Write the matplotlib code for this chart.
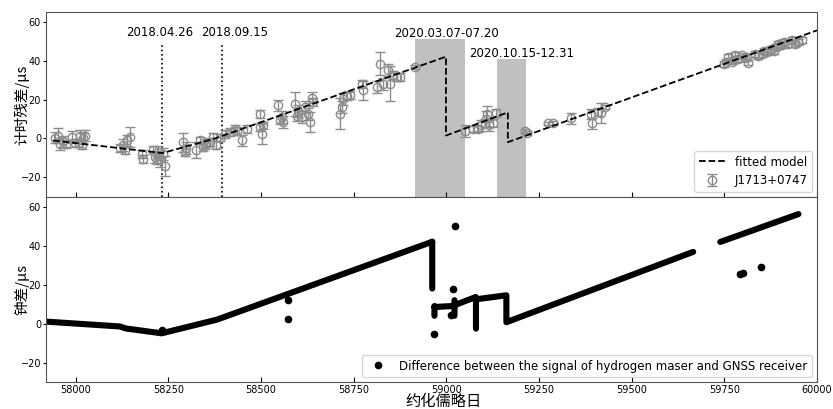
import numpy as np
import matplotlib.pyplot as plt

plt.rcParams['font.family'] = ['DejaVu Sans', 'Noto Sans CJK SC']
cjk = ['Noto Sans CJK SC', 'DejaVu Sans']

# J1713+0747 timing residuals (MJD, us, error us)
psr_mjd = [57943, 57953, 57958, 57965, 57975, 57989, 57998, 58008, 58012, 58016, 58020, 58026,
           58120, 58128, 58133, 58138, 58147,
           58178, 58183, 58210, 58214, 58219, 58223, 58228, 58236, 58241,
           58290, 58295, 58298,
           58326, 58335, 58344, 58349, 58353, 58362, 58371, 58380, 58389, 58403, 58416, 58430, 58434,
           58448, 58461, 58497, 58497, 58502, 58506,
           58547, 58551, 58556, 58560, 58592, 58596, 58600, 58610, 58619, 58628, 58632, 58637, 58641,
           58713, 58718, 58722, 58731, 58740,
           58772, 58776, 58812, 58821, 58830, 58844, 58848, 58857, 58866, 58875, 58916,
           59050, 59072, 59085, 59094, 59103, 59108, 59111, 59116, 59125, 59133,
           59212, 59218, 59275, 59287, 59336, 59391, 59393, 59410, 59418, 59428,
           59748, 59755, 59761, 59770, 59775, 59780, 59788, 59797, 59805, 59810, 59815, 59833,
           59840, 59851, 59858, 59865, 59875, 59883, 59890, 59896, 59905, 59910, 59923, 59932,
           59941, 59950, 59959]
psr_res = [0.5, 1.5, -2.7, -1.5, -3.0, 0.7, -2.5, -2.5, 1.5, -3.5, 0.0, 1.5,
           -5.0, -3.5, -6.0, -1.0, 0.7,
           -8.0, -10.5, -6.0, -9.5, -11.0, -7.0, -10.5, -8.0, -14.0,
           -2.0, -7.0, -5.0,
           -6.0, -1.0, -4.5, -3.5, -2.5, -1.8, 0.7, -3.5, 0.5, 2.4, 3.3, 5.0, 4.0,
           -1.0, 5.0, 5.8, 12.7, 2.4, 6.7,
           17.0, 9.3, 11.0, 8.4, 17.8, 11.8, 14.0, 11.0, 16.0, 12.7, 8.4, 21.0, 18.7,
           12.7, 16.0, 20.4, 22.0, 22.5,
           28.0, 24.7, 26.4, 38.4, 28.0, 35.0, 28.0, 32.4, 31.5, 31.5, 36.5,
           4.0, 5.0, 5.0, 6.7, 7.8, 10.0, 12.8, 6.7, 8.0, 13.0,
           4.0, 3.0, 7.7, 8.0, 10.3, 12.5, 7.7, 13.4, 13.0, 16.0,
           38.4, 39.5, 41.8, 39.5, 40.5, 42.7, 41.0, 42.6, 41.5, 42.0, 39.0, 43.5,
           42.5, 43.5, 45.0, 44.4, 46.0, 45.0, 47.0, 48.7, 48.0, 49.5, 48.7, 50.6,
           48.7, 49.6, 50.4]
psr_err = [3, 4, 3, 3, 2, 3, 2, 2, 3, 2, 3, 3,
           2, 3, 2, 3, 5,
           2, 2, 2, 3, 2, 3, 4, 3, 5,
           5, 2, 3,
           4, 2, 2, 2, 2, 2, 2, 2, 2, 2, 2, 2, 2,
           3, 2, 2, 2, 5, 2,
           3, 2, 3, 3, 6, 3, 3, 3, 3, 3, 5, 3, 2,
           8, 3, 3, 2, 2,
           2, 5, 3, 6, 3, 3, 9, 2, 2, 2, 1,
           3, 1.5, 1.5, 3, 2, 4, 4, 3, 2, 2,
           1, 1, 1, 1, 3, 2.5, 3, 2, 5, 1,
           1.5, 1.5, 1.5, 1.5, 1.5, 1.5, 1.5, 1.5, 1.5, 1.5, 1.5, 1.5,
           1.5, 1.5, 1.5, 1.5, 1.5, 1.5, 1.5, 1.5, 1.5, 1.5, 1.5, 1.5,
           1.5, 1.5, 1.5]

# fitted timing model (piecewise)
fit_mjd = [57939, 58234, 58376, 58999, 58999, 59166, 59166, 60000]
fit_val = [-1.0, -7.5, 0.0, 42.0, 1.5, 13.4, -1.9, 55.5]

# marked dates
event_mjd = [58234, 58396]
event_labels = ['2018.04.26', '2018.09.15']
event_label_x = [58228, 58428]
gap_start = [58915, 59137]
gap_end = [59050, 59214]
gap_top = [51.3, 41.0]
gap_labels = ['2020.03.07-07.20', '2020.10.15-12.31']
gap_label_x = [59001, 59203]

# hydrogen maser - GNSS receiver clock difference (NaN separates pieces)
clk_mjd = [57920, 58120, 58135, 58232, 58381, 58962, np.nan,
           58962, 58962, np.nan,
           58968, 58968, np.nan,
           58968, 59016, 59078, np.nan,
           59022, 59022, np.nan,
           59080, 59080, np.nan,
           59082, 59162, 59162, 59666, np.nan,
           59739, 59950]
clk_val = [1.0, -1.5, -2.5, -5.0, 2.0, 42.0, np.nan,
           42.0, 18.0, np.nan,
           9.0, 4.0, np.nan,
           8.5, 9.0, 13.5, np.nan,
           12.0, 4.0, np.nan,
           13.5, -2.6, np.nan,
           12.5, 14.5, 0.7, 36.8, np.nan,
           41.9, 56.2]
clk_out_mjd = [58232, 58573, 58573, 58968, 59013, 59018, 59024, 59792, 59800, 59848]
clk_out_val = [-3.5, 12.0, 2.2, -5.2, 4.2, 17.5, 50.2, 25.5, 26.2, 29.0]

fig, (ax1, ax2) = plt.subplots(2, 1, figsize=(8.33, 4.09), dpi=100, sharex=True)
fig.subplots_adjust(left=0.0552, right=0.9808, top=0.971, bottom=0.066, hspace=0)

for s, e, t in zip(gap_start, gap_end, gap_top):
    ax1.fill_between([s, e], -30, t, color='#c0c0c0', lw=0, zorder=1)
for x, xl, lab in zip(event_mjd, event_label_x, event_labels):
    ax1.plot([x, x], [-30, 49.2], color='k', ls=':', lw=1.2, zorder=2)
    ax1.text(xl, 51.3, lab, ha='center', va='bottom', fontsize=8.5)
for x, lab, t in zip(gap_label_x, gap_labels, gap_top):
    ax1.text(x, t - 0.5, lab, ha='center', va='bottom', fontsize=8.5)

ax1.plot(fit_mjd, fit_val, 'k--', lw=1.3, label='fitted model', zorder=4)
ax1.errorbar(psr_mjd, psr_res, yerr=psr_err, fmt='o', mfc='none', mec='#8c8c8c',
             ecolor='#8c8c8c', ms=6, mew=1, elinewidth=1, capsize=3.5,
             label='J1713+0747', zorder=3)
ax1.set_ylim(-30, 65)
ax1.set_ylabel('计时残差/μs', family=cjk, fontsize=10.5)
ax1.yaxis.set_label_coords(-0.021, 0.5)
ax1.legend(loc='lower right', fontsize=8.5, handlelength=2.2, borderaxespad=0.4)

ax2.plot(clk_mjd, clk_val, color='k', lw=4.4, solid_capstyle='round', zorder=2)
ax2.plot(clk_out_mjd, clk_out_val, 'o', color='k', ms=4.5, zorder=3,
         label='Difference between the signal of hydrogen maser and GNSS receiver')
ax2.set_ylim(-30, 65)
ax2.set_xlim(57920, 60000)
ax2.set_xticks([58000, 58250, 58500, 58750, 59000, 59250, 59500, 59750, 60000])
ax2.set_ylabel('钟差/μs', family=cjk, fontsize=10.5)
ax2.yaxis.set_label_coords(-0.021, 0.5)
ax2.set_xlabel('约化儒略日', family=cjk, fontsize=11)
ax2.xaxis.set_label_coords(0.516, -0.062)
ax2.legend(loc='lower right', fontsize=8.5, borderaxespad=0.4)

for ax in (ax1, ax2):
    ax.set_yticks([-20, 0, 20, 40, 60])
    ax.tick_params(axis='x', direction='in', labelsize=7, pad=2)
    ax.tick_params(axis='y', direction='out', labelsize=7, length=2.5, pad=1)
    for sp in ax.spines.values():
        sp.set_color('#555555')

fig.savefig('out.png', dpi=100)
